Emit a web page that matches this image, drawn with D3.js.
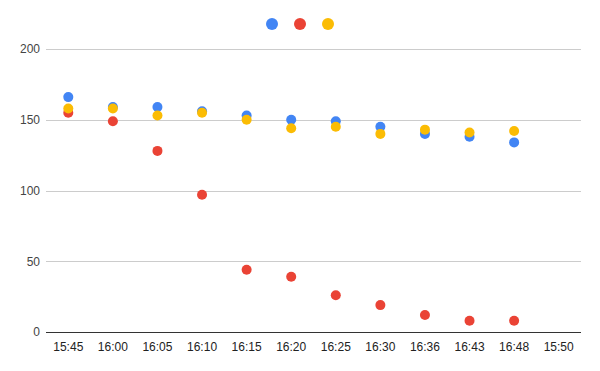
<!DOCTYPE html>
<html>
<head>
<meta charset="utf-8">
<script src="https://cdn.jsdelivr.net/npm/d3@7"></script>
<style>
  body { margin: 0; background: #fff; }
  svg { display: block; font-family: Arial, "Liberation Sans", sans-serif; }
</style>
</head>
<body>
<div id="chart"></div>
<script>
// category labels along the x axis (last one has no data)
const categories = ["15:45", "16:00", "16:05", "16:10", "16:15", "16:20", "16:25", "16:30", "16:36", "16:43", "16:48", "15:50"];

// series values
const blueValues   = [166, 159, 159, 156, 153, 150, 149, 145, 140, 138, 134];
const redValues    = [155, 149, 128, 97, 44, 39, 26, 19, 12, 8, 8];
const yellowValues = [158, 158, 153, 155, 150, 144, 145, 140, 143, 141, 142];

const yTicks = [0, 50, 100, 150, 200];

const series = [
  { name: "blue",   color: "#4285f4", values: blueValues },
  { name: "red",    color: "#ea4335", values: redValues },
  { name: "yellow", color: "#fbbc04", values: yellowValues }
];

const width = 600, height = 371;
const margin = { top: 49, right: 19, bottom: 39, left: 46 };

const svg = d3.select("#chart").append("svg")
  .attr("width", width)
  .attr("height", height);

const x = d3.scaleBand()
  .domain(categories)
  .range([margin.left, width - margin.right]);

const y = d3.scaleLinear()
  .domain([0, 200])
  .range([height - margin.bottom, margin.top]);

// gridlines + y labels
const yAxis = d3.axisLeft(y)
  .tickValues(yTicks)
  .tickSize(-(width - margin.left - margin.right))
  .tickPadding(6);

const gy = svg.append("g")
  .attr("transform", `translate(${margin.left},0)`)
  .call(yAxis);
gy.select(".domain").remove();
gy.selectAll(".tick line").attr("stroke", "#cccccc").attr("shape-rendering", "crispEdges");
gy.selectAll(".tick text")
  .attr("fill", "#444")
  .attr("font-size", 12)
  .attr("font-family", "Arial, 'Liberation Sans', sans-serif");

// baseline
svg.append("line")
  .attr("x1", margin.left).attr("x2", width - margin.right)
  .attr("y1", y(0)).attr("y2", y(0))
  .attr("stroke", "#333").attr("shape-rendering", "crispEdges");

// x labels
const xAxis = d3.axisBottom(x).tickSize(0).tickPadding(10);
const gx = svg.append("g")
  .attr("transform", `translate(0,${y(0)})`)
  .call(xAxis);
gx.select(".domain").remove();
gx.selectAll(".tick text")
  .attr("fill", "#222")
  .attr("font-size", 12)
  .attr("font-family", "Arial, 'Liberation Sans', sans-serif");

// points
series.forEach(s => {
  svg.append("g")
    .selectAll("circle")
    .data(s.values)
    .enter().append("circle")
    .attr("cx", (d, i) => x(categories[i]) + x.bandwidth() / 2)
    .attr("cy", d => y(d))
    .attr("r", 5)
    .attr("fill", s.color);
});

// legend (dots only)
const legend = d3.scalePoint()
  .domain(series.map(s => s.name))
  .range([272, 328]);

svg.append("g")
  .selectAll("circle")
  .data(series)
  .enter().append("circle")
  .attr("cx", d => legend(d.name))
  .attr("cy", 24)
  .attr("r", 6)
  .attr("fill", d => d.color);
</script>
</body>
</html>
